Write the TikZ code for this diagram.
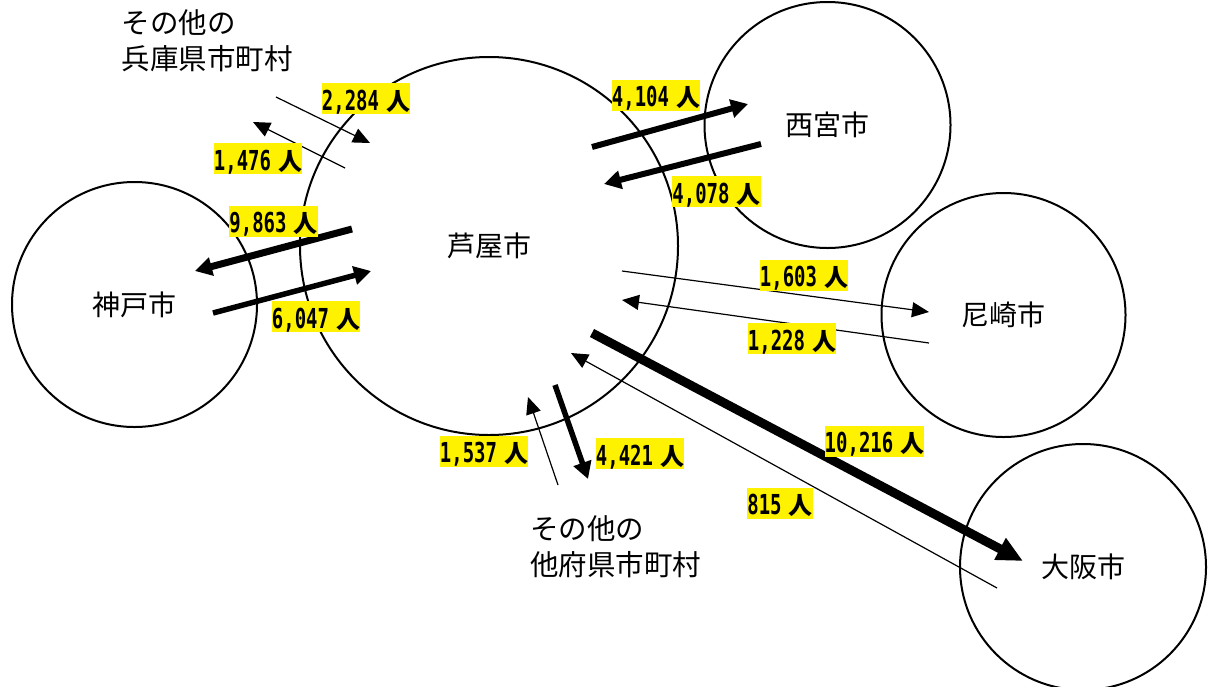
\documentclass[tikz,border=0pt]{standalone}
\usepackage{fontspec}
\usepackage{graphicx}
\usetikzlibrary{arrows.meta}
\newfontfamily\cjk{Noto Sans CJK JP}
\newfontfamily\numfont{DejaVu Sans Mono}
\newcommand\ppl[1]{{\numfont\bfseries\fontsize{27.5}{30}\selectfont\scalebox{0.69}[1]{#1}}\hspace{7pt}{\cjk\bfseries\fontsize{24}{28}\selectfont 人}}
\tikzset{
  city/.style={circle, draw, line width=2pt, inner sep=0pt, font=\cjk\fontsize{28}{34}\selectfont},
  other/.style={align=left, inner sep=0pt, font=\cjk\fontsize{28.5}{36.5}\selectfont},
  lab/.style={fill=yellow, inner sep=0pt, text height=27pt, text depth=4pt},
  thinarr/.style={line width=1.2pt, -{Triangle[length=17pt,width=15pt]}},
  midarr/.style={line width=6pt, -{Triangle[length=17pt,width=18pt]}},
  bigarr/.style={line width=9pt, -{Triangle[length=26pt,width=23pt]}}
}
\begin{document}
\begin{tikzpicture}[x=1pt,y=-1pt]
\useasboundingbox (0,0) rectangle (1209,686);
% cities
\node[city, minimum size=378pt] (ashiya) at (489,246) {芦屋市};
\node[city, minimum size=245pt] (kobe) at (134.5,304.5) {神戸市};
\node[city, minimum size=246pt] (nishi) at (827.5,125) {西宮市};
\node[city, minimum size=244pt] (ama) at (1003.5,315) {尼崎市};
\node[city, minimum size=246pt] (osaka) at (1083,567) {大阪市};
\node[other] (hyogo) at (207,40.6) {その他の\\兵庫県市町村};
\node[other] (pref) at (615.5,546.5) {その他の\\他府県市町村};
% arrow ends
\coordinate (a1s) at (276,97);  \coordinate (a1e) at (370,143);
\coordinate (a2s) at (345,168); \coordinate (a2e) at (253,122);
\coordinate (a3s) at (592,147); \coordinate (a3e) at (748,104);
\coordinate (a4s) at (761,144); \coordinate (a4e) at (604,184);
\coordinate (a5s) at (352,229); \coordinate (a5e) at (195,271);
\coordinate (a6s) at (213,313); \coordinate (a6e) at (371,271);
\coordinate (a7s) at (622,271); \coordinate (a7e) at (929,312);
\coordinate (a8s) at (929,343); \coordinate (a8e) at (622,300);
\coordinate (a9s) at (592,333); \coordinate (a9e) at (1023,561);
\coordinate (a10s) at (997,588); \coordinate (a10e) at (571,353);
\coordinate (a11s) at (558,485); \coordinate (a11e) at (528,397);
\coordinate (a12s) at (555,385); \coordinate (a12e) at (588,479);
% arrows
\draw[thinarr] (a1s) -- (a1e);
\draw[thinarr] (a2s) -- (a2e);
\draw[midarr] (a3s) -- (a3e);
\draw[midarr] (a4s) -- (a4e);
\draw[midarr, line width=7pt] (a5s) -- (a5e);
\draw[midarr, line width=5.5pt] (a6s) -- (a6e);
\draw[thinarr] (a7s) -- (a7e);
\draw[thinarr] (a8s) -- (a8e);
\draw[bigarr] (a9s) -- (a9e);
\draw[thinarr] (a10s) -- (a10e);
\draw[thinarr] (a11s) -- (a11e);
\draw[midarr, line width=5.5pt] (a12s) -- (a12e);
% labels
\node[lab] (l1) at (366,98.5) {\ppl{2,284}};
\node[lab] (l2) at (258,158.5) {\ppl{1,476}};
\node[lab] (l3) at (656,95) {\ppl{4,104}};
\node[lab] (l4) at (716.5,191.5) {\ppl{4,078}};
\node[lab] (l5) at (273.5,221) {\ppl{9,863}};
\node[lab] (l6) at (316,316.5) {\ppl{6,047}};
\node[lab] (l7) at (804,275) {\ppl{1,603}};
\node[lab] (l8) at (792,338.5) {\ppl{1,228}};
\node[lab] (l9) at (874.5,441) {\ppl{10,216}};
\node[lab] (l10) at (780,503) {\ppl{815}};
\node[lab] (l11) at (484,451) {\ppl{1,537}};
\node[lab] (l12) at (640,453.5) {\ppl{4,421}};
\end{tikzpicture}
\end{document}
